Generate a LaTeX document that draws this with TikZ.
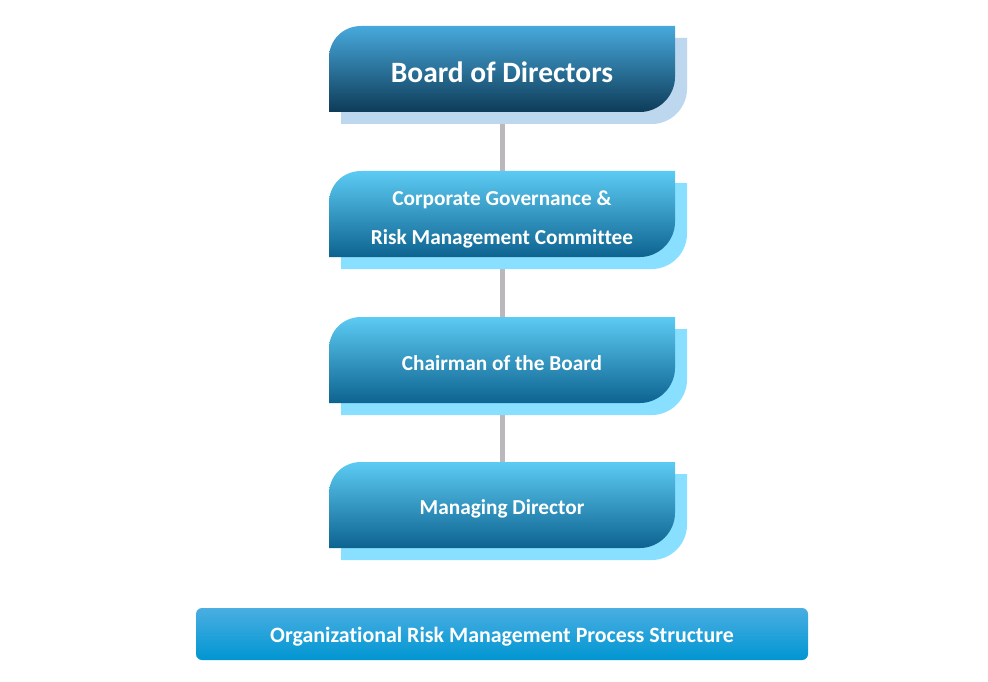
\documentclass[tikz,border=0pt]{standalone}
\usepackage{fontspec}
\setmainfont{Carlito}[RawFeature={-liga}]
\pgfdeclarelayer{background}
\pgfsetlayers{background,main}
\definecolor{darktop}{HTML}{47A9DC}
\definecolor{darkmid}{HTML}{236F95}
\definecolor{darkbot}{HTML}{0E3B58}
\definecolor{darkshadow}{HTML}{BDD7EF}
\definecolor{lighttop}{HTML}{5CCBF3}
\definecolor{lightmid}{HTML}{12A6E2}
\definecolor{lightbot}{HTML}{0D6390}
\definecolor{lightshadow}{HTML}{88DFFF}
\definecolor{bantop}{HTML}{4AAEE2}
\definecolor{banbot}{HTML}{0096D2}
\definecolor{connc}{HTML}{BCB6BD}
\newcommand\leafshape[3]{\path[#1] (#2,#3+86) -- (#2,#3+32) .. controls (#2,#3+14) and (#2+14,#3) .. (#2+32,#3) -- (#2+346,#3) -- (#2+346,#3+51) .. controls (#2+346,#3+70) and (#2+330,#3+86) .. (#2+311,#3+86) -- cycle;}
\begin{document}
\begin{tikzpicture}[x=1pt,y=-1pt,
  darkbox/.style={top color=darktop, middle color=darkmid, bottom color=darkbot},
  lightbox/.style={top color=lighttop, middle color=lightmid, bottom color=lightbot},
  boxtext/.style={minimum width=346pt, minimum height=86pt, inner sep=0pt, text=white, font=\bfseries\fontsize{21.3}{39}\selectfont, align=center},
  conn/.style={draw=connc, line width=5pt}]
\useasboundingbox (0,0) rectangle (988,682);
% box 1
\leafshape{fill=darkshadow}{341}{38}
\leafshape{darkbox}{329}{26}
\node[boxtext, font=\bfseries\fontsize{29.5}{34}\selectfont] (bod) at (502,72) {Board of Directors};
% box 2
\leafshape{fill=lightshadow}{341}{183}
\leafshape{lightbox}{329}{171}
\node[boxtext] (cgrm) at (502,219) {Corporate Governance \&\\Risk Management Committee};
% box 3
\leafshape{fill=lightshadow}{341}{329}
\leafshape{lightbox}{329}{317}
\node[boxtext] (chair) at (502,363) {Chairman of the Board};
% box 4
\leafshape{fill=lightshadow}{341}{474}
\leafshape{lightbox}{329}{462}
\node[boxtext] (md) at (502,509) {Managing Director};
% banner
\path[top color=bantop, bottom color=banbot, rounded corners=6pt] (196,608) rectangle (808,660);
\node[text=white, font=\bfseries\fontsize{21.9}{26}\selectfont, inner sep=0pt] (title) at (502,637) {Organizational Risk Management Process Structure};
\begin{pgfonlayer}{background}
\fill[white] (0,0) rectangle (988,682);
\draw[conn] (bod.south) -- (cgrm.north);
\draw[conn] (cgrm.south) -- (chair.north);
\draw[conn] (chair.south) -- (md.north);
\end{pgfonlayer}
\end{tikzpicture}
\end{document}
